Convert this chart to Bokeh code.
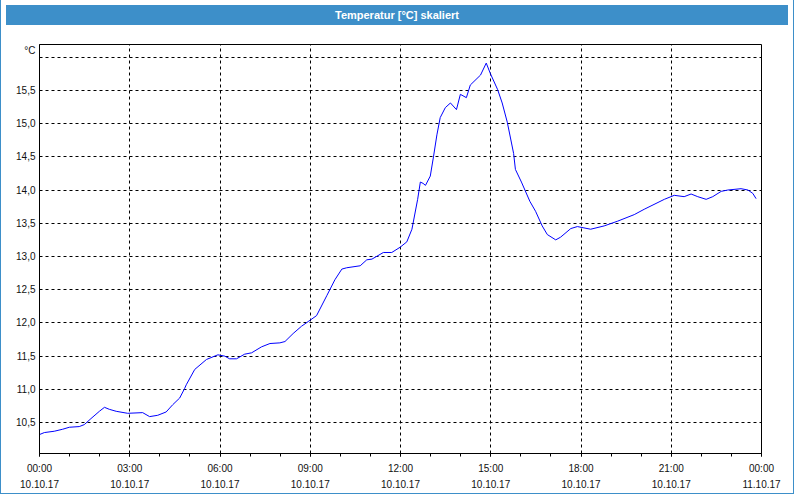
from bokeh.plotting import figure
from bokeh.models import FixedTicker, Div, ColumnDataSource
from bokeh.layouts import column
from bokeh.embed import file_html
from bokeh.resources import INLINE

# time of day in hours (10.10.17 00:00 = 0)
hours = [0.00, 0.16, 0.49, 0.77, 0.99, 1.32, 1.49, 1.71, 1.99, 2.16, 2.32, 2.55, 2.93,
         3.43, 3.66, 3.93, 4.21, 4.43, 4.66, 4.82, 4.88, 5.16, 5.55, 5.93, 6.16, 6.32,
         6.55, 6.82, 7.05, 7.38, 7.66, 7.99, 8.16, 8.43, 8.71, 8.93, 9.21, 9.55, 9.82,
         10.05, 10.21, 10.66, 10.88, 11.05, 11.43, 11.71, 11.99, 12.21, 12.38, 12.57,
         12.66, 12.75, 12.83, 12.99, 13.10, 13.21, 13.32, 13.49, 13.66, 13.86, 13.99,
         14.19, 14.32, 14.66, 14.85, 14.99, 15.23, 15.38, 15.55, 15.76, 15.82, 16.02,
         16.30, 16.49, 16.71, 16.88, 17.16, 17.32, 17.66, 17.88, 18.32, 18.77, 19.21,
         19.77, 20.10, 20.77, 21.10, 21.43, 21.66, 21.88, 22.16, 22.38, 22.66, 22.88,
         23.32, 23.55, 23.71, 23.82]
temps = [10.32, 10.35, 10.37, 10.40, 10.43, 10.44, 10.47, 10.56, 10.67, 10.73, 10.70, 10.67, 10.64,
         10.65, 10.59, 10.61, 10.66, 10.77, 10.87, 11.01, 11.07, 11.30, 11.45, 11.52, 11.50, 11.46,
         11.46, 11.53, 11.55, 11.64, 11.69, 11.70, 11.72, 11.84, 11.95, 12.02, 12.11, 12.41, 12.65,
         12.81, 12.83, 12.86, 12.95, 12.96, 13.06, 13.06, 13.14, 13.22, 13.41, 13.86,
         14.12, 14.10, 14.07, 14.21, 14.51, 14.83, 15.09, 15.24, 15.31, 15.21, 15.44,
         15.39, 15.58, 15.73, 15.91, 15.75, 15.51, 15.31, 15.02, 14.55, 14.31, 14.12,
         13.83, 13.68, 13.46, 13.33, 13.25, 13.29, 13.42, 13.45, 13.41, 13.46, 13.53,
         13.63, 13.71, 13.86, 13.92, 13.90, 13.94, 13.90, 13.86, 13.90, 13.98, 14.00,
         14.02, 14.00, 13.95, 13.87]

x_ticks = [0, 3, 6, 9, 12, 15, 18, 21, 24]
x_tick_labels = ["00:00\n10.10.17", "03:00\n10.10.17", "06:00\n10.10.17", "09:00\n10.10.17",
                 "12:00\n10.10.17", "15:00\n10.10.17", "18:00\n10.10.17", "21:00\n10.10.17",
                 "00:00\n11.10.17"]
y_grid = [10.5, 11.0, 11.5, 12.0, 12.5, 13.0, 13.5, 14.0, 14.5, 15.0, 15.5, 16.0]
y_ticks = [10.5, 11.0, 11.5, 12.0, 12.5, 13.0, 13.5, 14.0, 14.5, 15.0, 15.5, 16.1]
y_tick_labels = ["10,5", "11,0", "11,5", "12,0", "12,5", "13,0", "13,5", "14,0", "14,5",
                 "15,0", "15,5", "°C"]

title_text = "Temperatur [°C] skaliert"
BLUE_BAR = "#3d8fc9"
FONT = "Liberation Sans"

src = ColumnDataSource(dict(h=hours, t=temps))

p = figure(width=782, height=463, x_range=(0, 24), y_range=(10.035, 16.19),
           output_backend="svg", toolbar_location=None,
           min_border_left=38, min_border_right=22, min_border_top=14, min_border_bottom=37)
p.background_fill_color = "white"
p.border_fill_color = "white"
p.outline_line_color = "black"
p.outline_line_alpha = 1.0
p.outline_line_width = 1

p.line("h", "t", source=src, line_color="#0000ff", line_width=1)

# x axis
p.xaxis.ticker = FixedTicker(ticks=x_ticks, minor_ticks=list(range(0, 25)))
p.xaxis.major_label_overrides = {k: v for k, v in zip(x_ticks, x_tick_labels)}
p.xaxis.major_tick_in = 0
p.xaxis.major_tick_out = 3
p.xaxis.minor_tick_in = 0
p.xaxis.minor_tick_out = 3
p.xaxis.axis_line_color = "black"
p.xaxis.major_tick_line_color = "black"
p.xaxis.minor_tick_line_color = "black"
p.xaxis.major_label_text_font = FONT
p.xaxis.major_label_text_font_size = "10px"
p.xaxis.major_label_text_color = "#111111"
p.xaxis.major_label_text_line_height = 1.5
p.xaxis.major_label_standoff = 6

# y axis
p.yaxis.ticker = FixedTicker(ticks=y_ticks)
p.yaxis.major_label_overrides = {k: v for k, v in zip(y_ticks, y_tick_labels)}
p.yaxis.major_tick_in = 0
p.yaxis.major_tick_out = 0
p.yaxis.minor_tick_line_color = None
p.yaxis.axis_line_color = "black"
p.yaxis.major_label_text_font = FONT
p.yaxis.major_label_text_font_size = "10px"
p.yaxis.major_label_text_color = "#111111"
p.yaxis.major_label_standoff = 4

# grids
p.xgrid.ticker = FixedTicker(ticks=x_ticks[1:-1])
p.ygrid.ticker = FixedTicker(ticks=y_grid)
for g in (p.xgrid, p.ygrid):
    g.grid_line_color = "black"
    g.grid_line_dash = "3 3"
    g.grid_line_width = 1
    g.grid_line_alpha = 1.0

header = Div(text=title_text, width=782, height=20,
             styles={"background-color": BLUE_BAR, "color": "white", "font-weight": "bold",
                     "font-family": FONT, "font-size": "11px", "text-align": "center",
                     "line-height": "20px"})

layout = column(header, p, spacing=0,
                styles={"border": "1px solid " + BLUE_BAR, "border-top": "none",
                        "background-color": "white"})

open("out.html", "w").write(file_html(layout, INLINE))
